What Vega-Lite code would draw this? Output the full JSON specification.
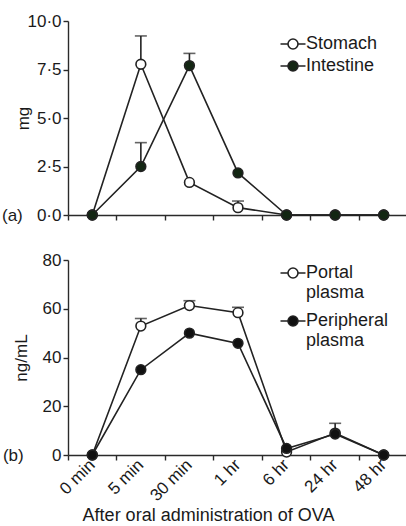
{
  "$schema": "https://vega.github.io/schema/vega-lite/v6.json",
  "padding": {"left": 1, "top": 12, "right": 0, "bottom": 0},
  "background": "white",
  "spacing": 27,
  "resolve": {"scale": {"fill": "independent"}, "legend": {"fill": "independent"}},
  "config": {
    "view": {"stroke": null},
    "font": "Liberation Sans",
    "axis": {
      "grid": false,
      "domainColor": "#2a2a2a",
      "tickColor": "#2a2a2a",
      "labelColor": "#1a1a1a",
      "titleColor": "#1a1a1a",
      "labelFont": "Liberation Sans",
      "titleFont": "Liberation Sans",
      "labelFontSize": 17,
      "titleFontSize": 17,
      "titleFontWeight": "normal",
      "domainWidth": 1.4,
      "tickWidth": 1.4,
      "tickSize": 5,
      "labelPadding": 2
    },
    "legend": {
      "labelFont": "Liberation Sans",
      "labelFontSize": 18,
      "labelColor": "#1a1a1a",
      "symbolSize": 400,
      "symbolStrokeWidth": 1.6,
      "symbolStrokeColor": "#222222",
      "labelOffset": 2,
      "rowPadding": 2
    }
  },
  "vconcat": [
    {
      "width": 340,
      "height": 194,
      "data": {
        "values": [
          {"time": "0 min", "series": "Stomach", "value": 0},
          {"time": "5 min", "series": "Stomach", "value": 7.77, "upper": 9.23},
          {"time": "30 min", "series": "Stomach", "value": 1.68},
          {"time": "1 hr", "series": "Stomach", "value": 0.38, "upper": 0.72},
          {"time": "6 hr", "series": "Stomach", "value": 0},
          {"time": "24 hr", "series": "Stomach", "value": 0},
          {"time": "48 hr", "series": "Stomach", "value": 0},
          {"time": "0 min", "series": "Intestine", "value": 0},
          {"time": "5 min", "series": "Intestine", "value": 2.5, "upper": 3.73},
          {"time": "30 min", "series": "Intestine", "value": 7.7, "upper": 8.33},
          {"time": "1 hr", "series": "Intestine", "value": 2.17},
          {"time": "6 hr", "series": "Intestine", "value": 0},
          {"time": "24 hr", "series": "Intestine", "value": 0},
          {"time": "48 hr", "series": "Intestine", "value": 0}
        ]
      },
      "encoding": {
        "x": {
          "field": "time",
          "type": "nominal",
          "scale": {"domain": ["0 min", "5 min", "30 min", "1 hr", "6 hr", "24 hr", "48 hr"], "paddingInner": 0, "paddingOuter": 0},
          "axis": {"labels": false, "title": null, "bandPosition": 0}
        },
        "y": {
          "field": "value",
          "type": "quantitative",
          "title": "mg",
          "scale": {"domain": [0, 10], "nice": false},
          "axis": {
            "values": [0, 2.5, 5, 7.5, 10],
            "labelExpr": "datum.value == 0 ? '(a)\u00a0\u00a0\u00a00·0' : replace(format(datum.value, '.1f'), '.', '·')",
            "titleX": -45,
            "titleBaseline": "middle"
          }
        }
      },
      "layer": [
        {
          "mark": {"type": "line", "color": "#222222", "strokeWidth": 1.6},
          "encoding": {"detail": {"field": "series"}}
        },
        {
          "transform": [{"filter": "isValid(datum.upper)"}],
          "mark": {"type": "rule", "color": "#222222", "strokeWidth": 1.6},
          "encoding": {"y2": {"field": "upper"}}
        },
        {
          "transform": [{"filter": "isValid(datum.upper)"}],
          "mark": {"type": "tick", "color": "#222222", "thickness": 1.6, "size": 12},
          "encoding": {"y": {"field": "upper", "type": "quantitative", "title": "mg"}}
        },
        {
          "mark": {"type": "point", "filled": true, "size": 95, "stroke": "#222222", "strokeWidth": 1.6, "opacity": 1},
          "encoding": {
            "fill": {
              "field": "series",
              "type": "nominal",
              "scale": {"domain": ["Stomach", "Intestine"], "range": ["white", "#132613"]},
              "legend": {
                "title": null,
                "orient": "none",
                "legendX": 214,
                "legendY": 12,
                "symbolType": "M-1.25,0H-0.5M0.5,0H1.25M0.5,0A0.5,0.5 0 1 1 -0.5,0A0.5,0.5 0 1 1 0.5,0Z"
              }
            }
          }
        }
      ]
    },
    {
      "width": 340,
      "height": 195,
      "data": {
        "values": [
          {"time": "0 min", "series": "Portal plasma", "value": 0},
          {"time": "5 min", "series": "Portal plasma", "value": 52.9, "upper": 56},
          {"time": "30 min", "series": "Portal plasma", "value": 61.3, "upper": 63.3},
          {"time": "1 hr", "series": "Portal plasma", "value": 58.4, "upper": 60.6},
          {"time": "6 hr", "series": "Portal plasma", "value": 1.2},
          {"time": "24 hr", "series": "Portal plasma", "value": 9, "upper": 13},
          {"time": "48 hr", "series": "Portal plasma", "value": 0},
          {"time": "0 min", "series": "Peripheral plasma", "value": 0},
          {"time": "5 min", "series": "Peripheral plasma", "value": 35},
          {"time": "30 min", "series": "Peripheral plasma", "value": 50},
          {"time": "1 hr", "series": "Peripheral plasma", "value": 45.8},
          {"time": "6 hr", "series": "Peripheral plasma", "value": 2.7},
          {"time": "24 hr", "series": "Peripheral plasma", "value": 8.6},
          {"time": "48 hr", "series": "Peripheral plasma", "value": 0}
        ]
      },
      "encoding": {
        "x": {
          "field": "time",
          "type": "nominal",
          "scale": {"domain": ["0 min", "5 min", "30 min", "1 hr", "6 hr", "24 hr", "48 hr"], "paddingInner": 0, "paddingOuter": 0},
          "axis": {"title": "After oral administration of OVA", "titleFontSize": 18, "titleX": 140, "bandPosition": 0, "labelAngle": -45, "labelAlign": "right", "labelBaseline": "middle", "titlePadding": 3}
        },
        "y": {
          "field": "value",
          "type": "quantitative",
          "title": "ng/mL",
          "scale": {"domain": [0, 80], "nice": false},
          "axis": {
            "values": [0, 20, 40, 60, 80],
            "labelExpr": "datum.value == 0 ? '(b)\u00a0\u00a0\u00a0\u00a0\u00a0\u00a00' : datum.label",
            "titleX": -47,
            "titleBaseline": "middle"
          }
        }
      },
      "layer": [
        {
          "mark": {"type": "line", "color": "#222222", "strokeWidth": 1.6},
          "encoding": {"detail": {"field": "series"}}
        },
        {
          "transform": [{"filter": "isValid(datum.upper)"}],
          "mark": {"type": "rule", "color": "#222222", "strokeWidth": 1.6},
          "encoding": {"y2": {"field": "upper"}}
        },
        {
          "transform": [{"filter": "isValid(datum.upper)"}],
          "mark": {"type": "tick", "color": "#222222", "thickness": 1.6, "size": 12},
          "encoding": {"y": {"field": "upper", "type": "quantitative", "title": "ng/mL"}}
        },
        {
          "mark": {"type": "point", "filled": true, "size": 95, "stroke": "#222222", "strokeWidth": 1.6, "opacity": 1},
          "encoding": {
            "fill": {
              "field": "series",
              "type": "nominal",
              "scale": {"domain": ["Portal plasma", "Peripheral plasma"], "range": ["white", "#111111"]},
              "legend": {
                "title": null,
                "orient": "none",
                "legendX": 214,
                "legendY": 2,
                "rowPadding": 8,
                "labelExpr": "split(datum.label, ' ')",
                "encode": {"labels": {"update": {"lineHeight": {"value": 22}}}},
                "symbolType": "M-1.25,0H-0.5M0.5,0H1.25M0.5,0A0.5,0.5 0 1 1 -0.5,0A0.5,0.5 0 1 1 0.5,0Z"
              }
            }
          }
        }
      ]
    }
  ]
}
